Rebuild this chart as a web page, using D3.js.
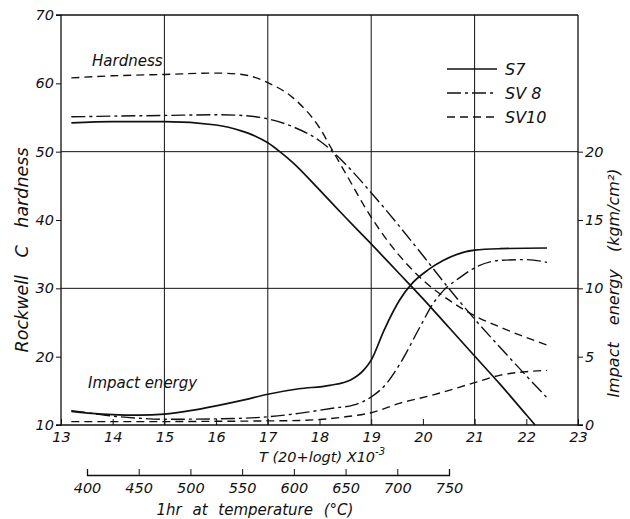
<!DOCTYPE html>
<html><head><meta charset="utf-8">
<script src="https://cdn.jsdelivr.net/npm/d3@7"></script>
<style>
html,body{margin:0;padding:0;background:#fff;}
svg{display:block;}
text{font-family:"DejaVu Sans",sans-serif;font-style:italic;fill:#111;}
</style></head>
<body>
<svg id="chart" width="630" height="519"></svg>
<script>
// ---- tick labels ----
const tTicks = [13,14,15,16,17,18,19,20,21,22,23];
const hardnessTicks = [10,20,30,40,50,60,70];
const impactTicks = [0,5,10,15,20];
const tempTicks = [400,450,500,550,600,650,700,750];
const tGrid = [15,17,19,21];
const hardnessGrid = [30,50,70];
const seriesNames = ["S7","SV 8","SV10"];

// ---- hardness (Rockwell C) vs T(20+log t)x10^-3 ----
const s7Hardness = [[13.2,54.2],[14,54.4],[15,54.4],[16,53.9],[16.5,53.0],[16.75,52.3],[17,51.3],[17.25,49.9],[17.5,48.3],[18,44.4],[18.5,40.4],[19,36.5],[19.5,32.5],[20,28.5],[20.5,24.3],[21,20.1],[21.5,15.9],[22,11.5],[22.17,10]];
const sv8Hardness = [[13.2,55.1],[14,55.2],[15,55.3],[16,55.4],[16.5,55.3],[17,54.8],[17.5,53.6],[18,51.6],[18.5,48.2],[19,44.0],[19.5,39.5],[20,34.8],[20.5,30.0],[21,25.5],[21.5,21.3],[22,17.2],[22.4,14.0]];
const sv10Hardness = [[13.2,60.8],[14,61.1],[15,61.3],[16,61.5],[16.5,61.3],[17,60.1],[17.5,57.8],[18,53.5],[18.25,50.2],[18.5,46.9],[19,40.4],[19.5,35.2],[20,31.2],[20.5,28.3],[21,26.0],[21.5,24.3],[22,22.8],[22.4,21.7]];

// ---- impact energy (kgm/cm2) ----
const s7Impact = [[13.2,1.0],[13.6,0.85],[14,0.76],[14.5,0.72],[15,0.8],[15.5,1.05],[16,1.4],[16.5,1.8],[17,2.25],[17.6,2.65],[18.2,2.9],[18.6,3.3],[18.85,4.0],[19.0,4.75],[19.25,6.95],[19.55,9.15],[19.8,10.4],[20.1,11.35],[20.4,12.05],[21.0,12.8],[21.5,12.9],[22.4,12.95]];
const sv8Impact = [[13.2,1.05],[13.6,0.85],[14,0.65],[14.5,0.5],[15,0.42],[16,0.45],[17,0.6],[17.6,0.85],[18.25,1.23],[18.65,1.45],[19.0,2.05],[19.3,3.05],[19.56,4.5],[19.94,7.15],[20.2,8.9],[20.4,9.85],[20.72,10.8],[21.0,11.5],[21.5,12.05],[22.0,12.1],[22.4,11.9]];
const sv10Impact = [[13.2,0.25],[14,0.25],[15,0.25],[16,0.27],[17,0.3],[17.6,0.33],[18,0.4],[18.5,0.6],[19,0.9],[19.56,1.6],[20.2,2.2],[21,3.1],[21.5,3.65],[22,3.9],[22.4,4.0]];

const dashes = ["none","14,4,3,4","8,5"];

const svg = d3.select("#chart");
const ink = "#111";
const FONT = "DejaVu Sans, sans-serif";
const x = d3.scaleLinear().domain([13,23]).range([61,578]);
const yH = d3.scaleLinear().domain([10,70]).range([425,15]);
const yI = d3.scaleLinear().domain([0,30]).range([425,15]);
const xTemp = d3.scaleLinear().domain([400,750]).range([87,449]);

// grid lines
svg.append("g").selectAll("line").data(tGrid).join("line")
  .attr("x1",d=>x(d)).attr("x2",d=>x(d)).attr("y1",yH(70)).attr("y2",yH(10))
  .attr("stroke",ink).attr("stroke-width",1);
svg.append("g").selectAll("line").data(hardnessGrid).join("line")
  .attr("x1",x(13)).attr("x2",x(23)).attr("y1",d=>yH(d)).attr("y2",d=>yH(d))
  .attr("stroke",ink).attr("stroke-width",1);

// axes
const axL = svg.append("g").attr("transform",`translate(${x(13)},0)`)
  .call(d3.axisLeft(yH).tickValues(hardnessTicks).tickSize(5).tickPadding(2).tickFormat(d3.format("d")));
const axR = svg.append("g").attr("transform",`translate(${x(23)},0)`)
  .call(d3.axisRight(yI).tickValues(impactTicks).tickSize(5).tickPadding(2).tickFormat(d3.format("d")));
const axB = svg.append("g").attr("transform",`translate(0,${yH(10)})`)
  .call(d3.axisBottom(x).tickValues(tTicks).tickSize(-6).tickPadding(7).tickFormat(d3.format("d")));
const axT = svg.append("g").attr("transform",`translate(0,475)`)
  .call(d3.axisBottom(xTemp).tickValues(tempTicks).tickSize(-6).tickPadding(8).tickFormat(d3.format("d")));
[axL,axR,axB,axT].forEach(g=>{
  g.select(".domain").attr("stroke",ink).attr("stroke-width",1.3);
  g.selectAll(".tick line").attr("stroke",ink).attr("stroke-width",1);
  g.selectAll("text").attr("font-size",14.5).attr("fill",ink)
    .attr("font-family",FONT).attr("font-style","italic");
});
axL.select(".domain").attr("d",`M-5,${yH(70)}H0V${yH(10)}H-5`);
axR.select(".domain").attr("d",`M5,${yI(0)}H0V${yH(70)}`);
axB.select(".domain").attr("d",`M${x(13)},0H${x(23)}`);
// top frame
svg.append("line").attr("x1",x(13)).attr("x2",x(23)).attr("y1",yH(70)).attr("y2",yH(70)).attr("stroke",ink).attr("stroke-width",1);

// curves
const lineH = d3.line().x(d=>x(d[0])).y(d=>yH(d[1])).curve(d3.curveMonotoneX);
const lineI = d3.line().x(d=>x(d[0])).y(d=>yI(d[1])).curve(d3.curveMonotoneX);
const hard = [s7Hardness,sv8Hardness,sv10Hardness];
const imp = [s7Impact,sv8Impact,sv10Impact];
hard.forEach((s,i)=>svg.append("path").attr("d",lineH(s)).attr("fill","none").attr("stroke",ink)
  .attr("stroke-width",i===0?1.7:1.4).attr("stroke-dasharray",dashes[i]));
imp.forEach((s,i)=>svg.append("path").attr("d",lineI(s)).attr("fill","none").attr("stroke",ink)
  .attr("stroke-width",i===0?1.7:1.4).attr("stroke-dasharray",dashes[i]));

// legend
const lg = svg.append("g");
seriesNames.forEach((n,i)=>{
  const yy = 69 + i*24;
  lg.append("line").attr("x1",447).attr("x2",497).attr("y1",yy).attr("y2",yy)
    .attr("stroke",ink).attr("stroke-width",i===0?1.7:1.4).attr("stroke-dasharray",dashes[i]);
  lg.append("text").attr("x",505).attr("y",yy+6).attr("font-size",16).text(n);
});

// labels
svg.append("text").attr("x",92).attr("y",66).attr("font-size",15).text("Hardness");
svg.append("text").attr("x",88).attr("y",388).attr("font-size",15).text("Impact energy");
const tl = svg.append("text").attr("x",322).attr("y",462).attr("text-anchor","middle").attr("font-size",14.5);
tl.append("tspan").text("T (20+logt) X10");
tl.append("tspan").attr("dy",-7).attr("font-size",10).text("-3");
svg.append("text").attr("x",255).attr("y",515).attr("text-anchor","middle").attr("font-size",15)
  .attr("word-spacing",6).text("1hr at temperature (°C)");
svg.append("text").attr("transform","translate(28,250) rotate(-90)").attr("text-anchor","middle")
  .attr("font-size",17.5).attr("word-spacing",12).text("Rockwell C hardness");
svg.append("text").attr("transform","translate(619,283) rotate(-90)").attr("text-anchor","middle")
  .attr("font-size",16).attr("word-spacing",12).text("Impact energy (kgm/cm²)");
</script>
</body></html>
